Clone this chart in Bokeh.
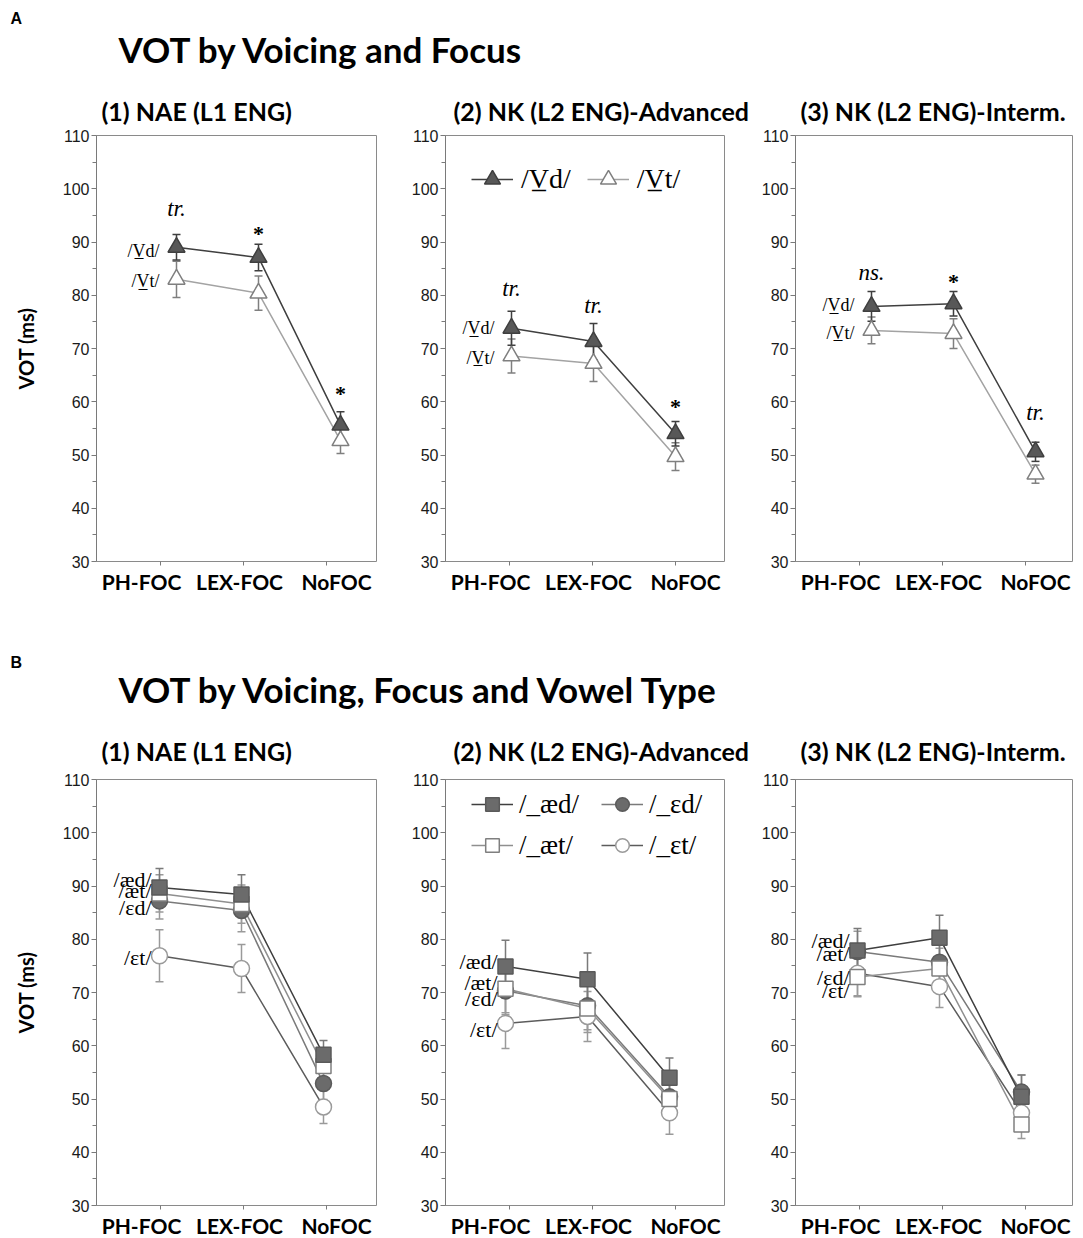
from bokeh.plotting import figure
from bokeh.models import (ColumnDataSource, Range1d, FixedTicker, Whisker, TeeHead,
                          Label, Legend, LegendItem)
from bokeh.layouts import column, row
from bokeh.embed import file_html
from bokeh.resources import INLINE
from bokeh.core.properties import value

# ---------------- data ----------------
categories = ["PH-FOC", "LEX-FOC", "NoFOC"]
y_ticks = [30, 40, 50, 60, 70, 80, 90, 100, 110]
y_minor = [35, 45, 55, 65, 75, 85, 95, 105]

panel_titles = ["(1) NAE (L1 ENG)", "(2) NK (L2 ENG)-Advanced", "(3) NK (L2 ENG)-Interm."]
title_a = "VOT by Voicing and Focus"
title_b = "VOT by Voicing, Focus and Vowel Type"

# Panel A: voicing (mean VOT, error)
a1_vd = [89.0, 87.1, 55.6]
a1_vd_err = [2.4, 2.5, 2.5]
a1_vt = [83.0, 80.4, 52.7]
a1_vt_err = [3.4, 3.2, 2.4]

a2_vd = [73.8, 71.3, 54.0]
a2_vd_err = [3.2, 3.4, 2.3]
a2_vt = [68.6, 67.2, 49.7]
a2_vt_err = [3.2, 3.4, 2.6]

a3_vd = [77.9, 78.4, 50.6]
a3_vd_err = [2.8, 2.3, 1.8]
a3_vt = [73.4, 72.8, 46.4]
a3_vt_err = [2.5, 2.8, 1.7]

# Panel B: voicing x vowel
b1_aed = [89.7, 88.4, 58.3]
b1_aed_err = [3.6, 3.7, 2.7]
b1_aet = [88.6, 86.6, 56.2]
b1_aet_err = [3.5, 3.6, 2.8]
b1_ed = [87.2, 85.4, 52.9]
b1_ed_err = [3.4, 4.0, 3.0]
b1_et = [76.9, 74.5, 48.5]
b1_et_err = [4.9, 4.5, 3.1]

b2_aed = [74.9, 72.5, 54.0]
b2_aed_err = [4.9, 4.9, 3.7]
b2_aet = [70.7, 67.0, 50.0]
b2_aet_err = [4.5, 4.5, 3.5]
b2_ed = [70.3, 67.5, 50.4]
b2_ed_err = [4.5, 4.5, 3.5]
b2_et = [64.2, 65.5, 47.4]
b2_et_err = [4.7, 4.7, 4.0]

b3_aed = [77.9, 80.3, 50.4]
b3_aed_err = [4.1, 4.2, 4.1]
b3_aet = [72.9, 74.5, 45.2]
b3_aet_err = [3.5, 3.8, 2.6]
b3_ed = [77.7, 75.7, 51.3]
b3_ed_err = [3.8, 3.9, 3.2]
b3_et = [73.6, 71.1, 47.4]
b3_et_err = [4.4, 3.9, 3.0]

# annotation texts (text, category index, y in data units)
a1_sig = [("tr.", 0, 96.3), ("*", 1, 91.6), ("*", 2, 61.5)]
a2_sig = [("tr.", 0, 81.3), ("tr.", 1, 78.1), ("*", 2, 59.1)]
a3_sig = [("ns.", 0, 84.3), ("*", 1, 82.5), ("tr.", 2, 58.0)]
a1_side = [("/V\u0332d/", 88.4), ("/V\u0332t/", 82.6)]
a2_side = [("/V\u0332d/", 73.8), ("/V\u0332t/", 68.3)]
a3_side = [("/V\u0332d/", 78.1), ("/V\u0332t/", 73.0)]
b1_side = [("/\u00e6d/", 91.2), ("/\u00e6t/", 89.2), ("/\u025bd/", 86.0), ("/\u025bt/", 76.6)]
b2_side = [("/\u00e6d/", 75.8), ("/\u00e6t/", 71.9), ("/\u025bd/", 68.9), ("/\u025bt/", 63.0)]
b3_side = [("/\u00e6d/", 79.8), ("/\u00e6t/", 77.3), ("/\u025bd/", 72.8), ("/\u025bt/", 70.4)]

# ---------------- layout constants ----------------
STEP = 82.0
FRAME_H = 426
LABEL_PX = [45, 143, 240]
XTICK_PX = [64, 147, 230]
HEAD_FONT = "Lato"
SERIF = "Liberation Serif"


def make_panel(frame_w, bl, br, bb, marker_px, ylabel):
    x0 = -marker_px / STEP
    x1 = (frame_w - marker_px) / STEP
    p = figure(frame_width=frame_w, frame_height=FRAME_H,
               min_border_left=bl, min_border_right=br, min_border_top=10,
               min_border_bottom=bb,
               x_range=Range1d(x0, x1), y_range=Range1d(30, 110),
               output_backend="svg", toolbar_location=None)
    p.grid.visible = False
    p.outline_line_color = "#8a8a8a"
    p.outline_line_width = 1
    p.background_fill_color = "white"
    p.border_fill_color = "white"
    # y axis
    ya = p.yaxis[0]
    ya.ticker = FixedTicker(ticks=y_ticks, minor_ticks=y_minor)
    ya.axis_line_color = "#7a7a7a"
    ya.major_tick_line_color = "#7a7a7a"
    ya.minor_tick_line_color = "#7a7a7a"
    ya.major_tick_out = 5
    ya.major_tick_in = 0
    ya.minor_tick_out = 4
    ya.minor_tick_in = 0
    ya.major_label_text_font = "Liberation Sans"
    ya.major_label_text_font_size = "16px"
    ya.major_label_text_color = "#1a1a1a"
    ya.major_label_standoff = 2
    if ylabel:
        ya.axis_label = "VOT (ms)"
        ya.axis_label_text_font = HEAD_FONT
        ya.axis_label_text_font_style = "bold"
        ya.axis_label_text_font_size = "20px"
        ya.axis_label_text_color = "black"
        ya.axis_label_standoff = 22
    # x axis
    xa = p.xaxis[0]
    lab_ticks = [round((lp - marker_px) / STEP, 4) for lp in LABEL_PX]
    min_ticks = [round((tp - marker_px) / STEP, 4) for tp in XTICK_PX]
    xa.ticker = FixedTicker(ticks=lab_ticks, minor_ticks=min_ticks)
    xa.major_label_overrides = {t: c for t, c in zip(lab_ticks, categories)}
    xa.axis_line_color = None
    xa.major_tick_line_color = None
    xa.minor_tick_line_color = "#7a7a7a"
    xa.minor_tick_out = 4
    xa.minor_tick_in = 0
    xa.major_label_text_font = HEAD_FONT
    xa.major_label_text_font_style = "bold"
    xa.major_label_text_font_size = "21px"
    xa.major_label_text_color = "black"
    xa.major_label_standoff = 1
    return p


def series(p, vals, errs, line_color, err_color, lw=1.5):
    xs = list(range(len(vals)))
    src = ColumnDataSource(dict(x=xs, y=vals,
                                lo=[v - e for v, e in zip(vals, errs)],
                                hi=[v + e for v, e in zip(vals, errs)]))
    w = Whisker(source=src, base="x", upper="hi", lower="lo",
                line_color=err_color, line_width=1.5, level="underlay",
                upper_head=TeeHead(size=8, line_color=err_color, line_width=1.5),
                lower_head=TeeHead(size=8, line_color=err_color, line_width=1.5))
    p.add_layout(w)
    ln = p.line("x", "y", source=src, line_color=line_color, line_width=lw)
    return src, ln


def markers(p, src, marker, size, fill, outline, lw=1.5):
    return p.scatter("x", "y", source=src, marker=marker, size=size,
                     fill_color=fill, line_color=outline, line_width=lw)


def side_labels(p, items, size, dx):
    src = ColumnDataSource(dict(x=[0] * len(items), y=[t[1] for t in items],
                                t=[t[0] for t in items]))
    p.text("x", "y", text="t", source=src, x_offset=dx, text_align="right",
           text_baseline="middle", text_font=value(SERIF),
           text_font_size=size, text_color="black")


def sig_labels(p, items):
    for txt, xi, yv in items:
        if txt == "*":
            p.text([xi], [yv], text=[txt], text_align="center", text_baseline="middle",
                   text_font=value(SERIF), text_font_size="22px", text_font_style="bold",
                   text_color="black")
        else:
            p.text([xi], [yv], text=[txt], text_align="center", text_baseline="middle",
                   text_font=value(SERIF), text_font_size="23px", text_font_style="italic",
                   text_color="black")


VD_LINE = "#3f3f3f"
VD_FILL = "#585858"
VT_LINE = "#a3a3a3"
VT_EDGE = "#7f7f7f"


def panel_a(p, vd, vd_err, vt, vt_err, side, sig, legend=False):
    s_vt, l_vt = series(p, vt, vt_err, VT_LINE, VT_EDGE)
    s_vd, l_vd = series(p, vd, vd_err, VD_LINE, VD_LINE)
    m_vt = markers(p, s_vt, "triangle", 17, "white", VT_EDGE)
    m_vd = markers(p, s_vd, "triangle", 17, VD_FILL, VD_LINE)
    side_labels(p, side, "18px", -17)
    sig_labels(p, sig)
    if legend:
        lg = Legend(items=[LegendItem(label="/V\u0332d/", renderers=[l_vd, m_vd]),
                           LegendItem(label="/V\u0332t/", renderers=[l_vt, m_vt])],
                    location=(26, 362), orientation="horizontal",
                    border_line_color=None, background_fill_alpha=0,
                    label_text_font=SERIF, label_text_font_size="28px",
                    label_text_color="black",
                    glyph_width=42, glyph_height=40, spacing=16, padding=0, margin=0,
                    label_standoff=8)
        p.add_layout(lg)


AED_LINE, AED_FILL = "#3f3f3f", "#6b6b6b"
AET_LINE, AET_EDGE = "#8f8f8f", "#7f7f7f"
ED_LINE, ED_FILL = "#7a7a7a", "#6b6b6b"
ET_LINE, ET_EDGE = "#5c5c5c", "#9a9a9a"
ERR_B = "#9a9a9a"


def panel_b(p, aed, aed_e, aet, aet_e, ed, ed_e, et, et_e, side, legend=False):
    s_et, l_et = series(p, et, et_e, ET_LINE, ERR_B)
    s_ed, l_ed = series(p, ed, ed_e, ED_LINE, ERR_B)
    s_aet, l_aet = series(p, aet, aet_e, AET_LINE, ERR_B)
    s_aed, l_aed = series(p, aed, aed_e, AED_LINE, "#7a7a7a")
    m_et = markers(p, s_et, "circle", 16, "white", ET_EDGE)
    m_ed = markers(p, s_ed, "circle", 16, ED_FILL, "#5a5a5a")
    m_aet = markers(p, s_aet, "square", 15, "white", AET_EDGE)
    m_aed = markers(p, s_aed, "square", 15, AED_FILL, "#5a5a5a")
    side_labels(p, side, "22px", -8)
    if legend:
        lg = Legend(items=[LegendItem(label="/_\u00e6d/", renderers=[l_aed, m_aed]),
                           LegendItem(label="/_\u025bd/", renderers=[l_ed, m_ed]),
                           LegendItem(label="/_\u00e6t/", renderers=[l_aet, m_aet]),
                           LegendItem(label="/_\u025bt/", renderers=[l_et, m_et])],
                    location=(26, 343), orientation="horizontal", ncols=2,
                    border_line_color=None, background_fill_alpha=0,
                    label_text_font=SERIF, label_text_font_size="27px",
                    label_text_color="black",
                    glyph_width=42, glyph_height=34, spacing=7, padding=0, margin=0,
                    label_standoff=6, label_height=34, label_width=75)
        p.add_layout(lg)


HEAD_W = 1079


def header(height, letter, letter_y, title, title_y, sub_y):
    h = figure(width=HEAD_W, height=height, x_range=Range1d(0, HEAD_W),
               y_range=Range1d(height, 0), min_border=0, x_axis_type=None,
               y_axis_type=None, outline_line_color=None, output_backend="svg",
               toolbar_location=None)
    h.grid.visible = False
    h.add_layout(Label(x=10, y=letter_y, text=letter, text_font="Liberation Sans",
                       text_font_style="bold", text_font_size="16px", text_color="black",
                       text_baseline="middle", text_align="left"))
    h.add_layout(Label(x=118, y=title_y, text=title, text_font=HEAD_FONT,
                       text_font_style="bold", text_font_size="35px", text_color="black",
                       text_baseline="middle", text_align="left"))
    for xx, t in zip([101, 453, 800], panel_titles):
        h.add_layout(Label(x=xx, y=sub_y, text=t, text_font=HEAD_FONT,
                           text_font_style="bold", text_font_size="25px",
                           text_color="black",
                           text_baseline="middle", text_align="left"))
    return h


# ---------------- build ----------------
hA = header(125, "A", 18, title_a, 48, 110)

A1 = make_panel(280, 96, 10, 40, 80, True)
panel_a(A1, a1_vd, a1_vd_err, a1_vt, a1_vt_err, a1_side, a1_sig)
A2 = make_panel(279, 59, 10, 40, 66, False)
panel_a(A2, a2_vd, a2_vd_err, a2_vt, a2_vt_err, a2_side, a2_sig, legend=True)
A3 = make_panel(278, 61, 0, 40, 76, False)
panel_a(A3, a3_vd, a3_vd_err, a3_vt, a3_vt_err, a3_side, a3_sig)

hB = header(168, "B", 61, title_b, 87, 149)

B1 = make_panel(280, 96, 10, 30, 63, True)
panel_b(B1, b1_aed, b1_aed_err, b1_aet, b1_aet_err, b1_ed, b1_ed_err, b1_et, b1_et_err, b1_side)
B2 = make_panel(279, 59, 10, 30, 60, False)
panel_b(B2, b2_aed, b2_aed_err, b2_aet, b2_aet_err, b2_ed, b2_ed_err, b2_et, b2_et_err, b2_side,
        legend=True)
B3 = make_panel(278, 61, 0, 30, 62, False)
panel_b(B3, b3_aed, b3_aed_err, b3_aet, b3_aet_err, b3_ed, b3_ed_err, b3_et, b3_et_err, b3_side)

layout = column(hA, row(A1, A2, A3), hB, row(B1, B2, B3))
open("out.html", "w").write(file_html(layout, INLINE))
